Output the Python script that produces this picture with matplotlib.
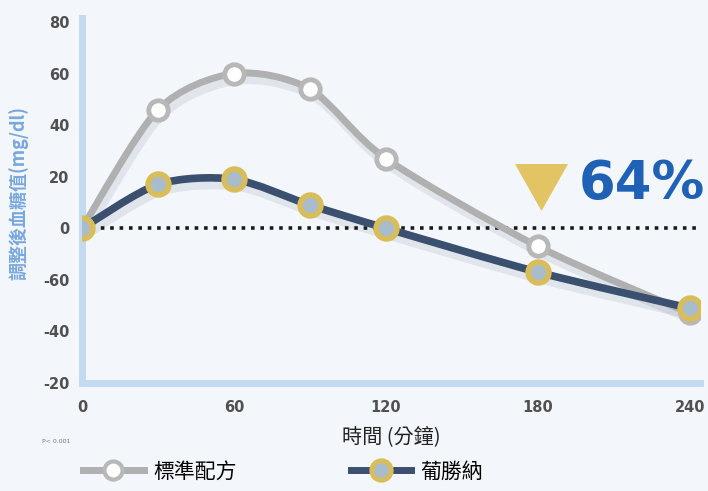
import matplotlib
matplotlib.use("Agg")
import matplotlib.pyplot as plt
from matplotlib.path import Path
from matplotlib.patches import PathPatch, Polygon
from matplotlib.lines import Line2D
from matplotlib.transforms import offset_copy, IdentityTransform
import numpy as np

plt.rcParams['font.family'] = ['Noto Sans CJK TC', 'DejaVu Sans']

# minutes after intake
minutes = [0, 30, 60, 90, 120, 180, 240]
standard = [0, 46, 60, 54, 27, -7, -33]     # 標準配方
glucerna = [0, 17, 19, 9, 0, -17, -31]      # 葡勝納

yticks = [80, 60, 40, 20, 0, -20, -40, -60]
ytick_labels = ['80', '60', '40', '20', '0', '-60', '-40', '-20']
xticks = [0, 60, 120, 180, 240]

bg = '#f3f7fb'
gray_line = '#b0b0b0'
navy_line = '#3b4f6e'
gold = '#d8bd5a'
axis_blue = '#c3dbf1'


def smooth_path(xs, ys, tension=0.42):
    # Catmull-Rom style curve through the points, as cubic Bezier segments
    pts = np.column_stack([xs, ys]).astype(float)
    verts = [pts[0]]
    codes = [Path.MOVETO]
    n = len(pts)
    k = tension / 3.0
    for i in range(n - 1):
        p0 = pts[i - 1] if i > 0 else pts[i]
        p1, p2 = pts[i], pts[i + 1]
        p3 = pts[i + 2] if i + 2 < n else pts[i + 1]
        c1 = p1 + (p2 - p0) * k
        c2 = p2 - (p3 - p1) * k
        verts += [c1, c2, p2]
        codes += [Path.CURVE4] * 3
    return Path(verts, codes)


fig = plt.figure(figsize=(7.08, 4.91), dpi=100, facecolor=bg)
ax = fig.add_axes([0.1158, 0.22, 0.8729, 0.743])
ax.set_facecolor(bg)
ax.set_xlim(0, 244)
ax.set_ylim(-60, 81.5)

for s in ['top', 'right']:
    ax.spines[s].set_visible(False)
for s in ['left', 'bottom']:
    ax.spines[s].set_color(axis_blue)
    ax.spines[s].set_linewidth(5)

ax.set_xticks(xticks)
ax.set_xticklabels([str(t) for t in xticks], fontsize=10.5, fontweight='bold',
                   color='#505050', family='DejaVu Sans')
ax.set_yticks(yticks)
ax.set_yticklabels(ytick_labels, fontsize=10.5, fontweight='bold',
                   color='#505050', family='DejaVu Sans')
ax.tick_params(length=0, pad=9)
ax.tick_params(axis='x', pad=12)

# zero reference
ax.axhline(0, color='#1a1a1a', lw=2.6, ls=(0, (1, 1.6)), zorder=2)

# soft shadows under both curves
shadow_tr = offset_copy(ax.transData, fig=fig, x=2, y=-5, units='points')
for ys, lw in [(standard, 6), (glucerna, 6.5)]:
    ax.add_patch(PathPatch(smooth_path(minutes, ys), fill=False, ec='#2b3a55',
                           lw=lw, alpha=0.09, transform=shadow_tr, zorder=2.5))

ax.add_patch(PathPatch(smooth_path(minutes, standard), fill=False, ec=gray_line,
                       lw=5, zorder=3, capstyle='round'))
ax.add_patch(PathPatch(smooth_path(minutes, glucerna), fill=False, ec=navy_line,
                       lw=5.5, zorder=4, capstyle='round'))

ax.plot(minutes, standard, ls='none', marker='o', ms=14, mfc='white',
        mec='#b8b8b8', mew=3.5, zorder=5)
ax.plot(minutes, glucerna, ls='none', marker='o', ms=15, mfc='#a9bccb',
        mec=gold, mew=4, zorder=6)

ax.set_xlabel('時間 (分鐘)', fontsize=14.5, color='#222222', labelpad=8)
fig.text(0.026, 0.607, '調整後血糖值(mg/dl)', rotation=90, fontsize=13,
         fontweight='bold', color='#7aa8dc', ha='center', va='center')
fig.text(0.059, 0.101, 'P< 0.001', fontsize=4.5, color='#777777',
         ha='left', va='center', family='DejaVu Sans')

# 64% reduction callout
tri = Polygon([[515, 491 - 164], [568, 491 - 164], [541.5, 491 - 211]],
              closed=True, fc='#e2c464', ec='none', zorder=7)
tri.set_transform(IdentityTransform())
fig.patches.append(tri)
fig.text(0.818, 0.625, '64%', fontsize=38, fontweight='bold', color='#1f62b5',
         ha='left', va='center', family='DejaVu Sans')

# legend
h_std = Line2D([], [], color=gray_line, lw=5, marker='o', ms=13, mfc='white',
               mec='#b8b8b8', mew=3)
h_glu = Line2D([], [], color=navy_line, lw=5, marker='o', ms=14, mfc='#a9bccb',
               mec=gold, mew=3.5)
fig.legend([h_std], ['標準配方'], loc='center left',
           bbox_to_anchor=(0.091, 0.04), frameon=False, fontsize=15,
           handlelength=2.9, handletextpad=0.45)
fig.legend([h_glu], ['葡勝納'], loc='center left',
           bbox_to_anchor=(0.469, 0.04), frameon=False, fontsize=15,
           handlelength=2.9, handletextpad=0.45)

fig.savefig('out.png', dpi=100, facecolor=bg)
